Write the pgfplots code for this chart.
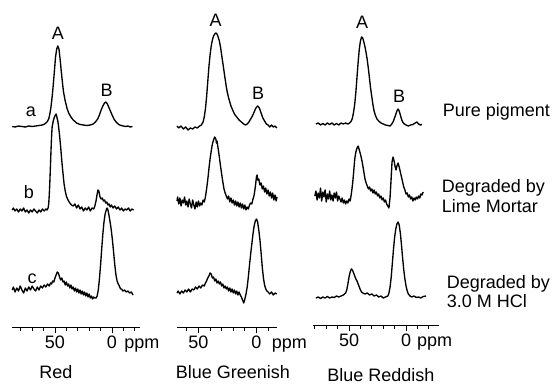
\documentclass[border=0pt]{standalone}
\usepackage{fontspec}
\setmainfont{Liberation Sans}
\usepackage{pgfplots}
\pgfplotsset{compat=1.18}
\newcommand{\fs}{\fontsize{18bp}{20bp}\selectfont}
\begin{document}
\begin{tikzpicture}[font=\fs]
\pgfplotsset{
  tr/.style={black, line width=1.35pt, line join=round, no markers},
  spec/.style={
    scale only axis, x dir=reverse,
    axis x line*=bottom, axis y line=none,
    ymax=387, anchor=south west, clip=false,
    xtick={0,50}, minor xtick={-20,-10,10,20,30,40,60,70,80},
    tick align=outside, major tick length=6bp, minor tick length=3.5bp,
    tick style={black, line width=0.8pt},
    axis line style={black, line width=0.8pt, -},
    xticklabel style={font=\fs, anchor=base, yshift=-15bp, inner sep=0pt},
  }
}
% ---------------- Red ----------------
\begin{axis}[spec, at={(12bp,60bp)}, width=128bp, height=327bp, ymin=60,
  xmin=-24.6, xmax=87.7, xticklabels={0\rlap{\hspace{7.4bp}ppm},50}]
\addplot[tr] coordinates {(87.5,260.5)(85,260)(82,261)(79,260.5)(76,260)(73,261)(70,260.5)(67,261)(64,261.5)(61,262)(59,263)(57,265)(55.5,268)(54.5,273)(53.5,280)(52.5,290)(51.5,302)(50.5,316)(49.5,330)(48.5,338)(47.5,341)(46.5,338)(45.5,328)(44.5,316)(43.5,305)(42.5,295)(41,286)(39.5,279)(38,274)(36,270)(34,267)(31,264)(28,262.5)(25,262)(22,261.5)(19,262)(16.5,263)(14.5,265)(12.5,268)(11,272)(9.5,277)(8,281)(6.5,284)(5.3,285)(4,283)(2.5,279)(1,275)(-0.5,271)(-2,267.5)(-4,264.5)(-6,262.5)(-8,261.5)(-10,261)(-12,260.5)(-14,261)(-16,260)(-18,260.5)};
\addplot[tr] coordinates {(87.5,177)(86.5,179)(85,176)(83.5,178)(82,175)(80.5,178)(79,176)(77.5,179)(76,175)(74.5,177)(73,174)(71.5,177)(70,175)(68.5,178)(67,176)(65.5,174)(64,177)(62.5,175)(61,178)(59.5,176)(58,178)(57,177)(56,179)(55.5,183)(55,192)(54.5,205)(54,220)(53.5,236)(53,250)(52.5,260)(51.5,266)(50.5,270)(49.5,272)(49,273)(48.5,271)(48,268)(47.5,266)(47,262)(46,252)(45,240)(44,226)(43,214)(42,203)(41,196)(40,191)(39,188)(38,186)(37,184)(35.5,182)(34,181)(32.5,183)(31,179)(29.5,182)(28,178)(26.5,180)(25,176)(23.5,179)(22,177)(20.5,180)(19,176)(17.5,179)(16,178)(15,181)(14,186)(13,193)(12.3,197)(11.5,196)(10.5,190)(9.5,188)(8.5,189)(7.5,186)(6.5,187)(5.5,184)(4.5,185)(3.5,182)(2.5,183)(1.5,180)(0.5,182)(-1,179)(-2.5,181)(-4,178)(-5.5,180)(-7,177)(-8.5,179)(-10,176)(-11.5,178)(-13,177)(-14.5,179)(-16,176)(-17.5,178)(-19,177)};
\addplot[tr] coordinates {(87.5,97)(86.5,100)(85,95)(83.5,99)(82,96)(80.5,101)(79,97)(77.5,94)(76,99)(74.5,96)(73,100)(71.5,97)(70,101)(68.5,98)(67,96)(65.5,100)(64,97)(62.5,101)(61,99)(59.5,102)(58,100)(56.5,103)(55,101)(54,104)(53,103)(52,106)(51,105)(50,109)(49,112)(48,115)(47,114)(46,110)(45,107)(44,109)(43,105)(42,106)(41,102)(40,105)(39,101)(38,103)(37,99)(36,102)(35,98)(34,100)(33,96)(32,99)(31,95)(30,98)(29,94)(28,97)(27,93)(26,96)(25,92)(24,95)(23,91)(22,94)(21,90)(20,93)(19,89)(18,91)(17,88)(16,90)(15,89)(14,89)(13,91)(12,97)(11,108)(10,122)(9,138)(8,153)(7,165)(6,173)(5,177)(4.3,179)(3.5,177)(2.5,171)(1.5,164)(0.5,156)(-0.5,146)(-1.5,134)(-2.5,122)(-3.5,112)(-4.5,106)(-5.5,103)(-6.5,101)(-7.5,98)(-8.5,98)(-9.5,96)(-11,97)(-12.5,95)(-14,96)(-15.5,94)(-17,95)(-18.5,92)};
\end{axis}
% ---------------- Blue Greenish ----------------
\begin{axis}[spec, at={(177bp,60bp)}, width=100bp, height=327bp, ymin=60,
  xmin=-17.7, xmax=68.5, xticklabels={0\rlap{\hspace{10.3bp}ppm},50}]
\addplot[tr] coordinates {(68.5,261)(67,259)(65,261)(63,258)(61,260)(59,257)(57,259)(55,258)(53,260)(51,259)(49,261)(47.5,262)(46,265)(45,270)(44,278)(43,290)(42,305)(41,320)(40,332)(39,341)(38,347)(37,351)(36,353)(35,354)(34,353)(33,350)(32,346)(31,340)(30,332)(29,324)(28,316)(27,308)(26,300)(25,294)(24,289)(23,285)(22,281)(20.5,277)(19,273)(17,270)(15,267)(13,265)(11,263)(9.5,262)(8,263)(6.5,265)(5,268)(3.5,271)(2,275)(0.5,279)(-1,281)(-2.5,279)(-4,274)(-5.5,269)(-7,266)(-8.5,263)(-10,262)(-11.5,260)(-13,262)(-14.5,260)(-16,261)(-17.5,259)};
\addplot[tr] coordinates {(68.5,186)(68,190)(67,183)(66,189)(65,181)(64,187)(63,184)(62,190)(61,182)(60,186)(59,180)(58,188)(57,183)(56,179)(55,187)(54,182)(53,178)(52,185)(51,180)(50,186)(49,181)(48,184)(47,182)(46,187)(45,185)(44,190)(43,198)(42,207)(41,218)(40,228)(39,236)(38,243)(37,247)(36,250)(35,248)(34.5,244)(34,246)(33,238)(32,230)(31,221)(30,213)(29,205)(28,198)(27,194)(26,191)(25,188)(24,191)(23,185)(22,189)(21,184)(20,187)(19,182)(18,186)(17,181)(16,185)(15,180)(14,184)(13,179)(12,183)(11,178)(10,182)(9,177)(8,180)(7,178)(6,182)(5,184)(4,183)(3,188)(2,192)(1,200)(0,210)(-0.5,212)(-1,207)(-2,208)(-3,202)(-4,204)(-5,198)(-6,201)(-7,195)(-8,199)(-9,193)(-10,197)(-11,191)(-12,195)(-13,189)(-14,194)(-15,187)(-16,192)(-17,186)(-17.7,190)};
\addplot[tr] coordinates {(68.5,94)(67.5,96)(66,93)(64.5,96)(63,94)(61.5,97)(60,95)(58.5,98)(57,95)(55.5,98)(54,97)(52.5,100)(51,98)(49.5,101)(48,99)(46.5,102)(45,101)(44,104)(43,106)(42,109)(41,111)(40,114)(39,113)(38,109)(37,110)(36,106)(35,108)(34,104)(33,106)(32,103)(31,105)(30,101)(29,103)(28,99)(27,101)(26,98)(25,100)(24,96)(23,99)(22,95)(21,98)(20,94)(19,97)(18,93)(17,96)(16,92)(15,95)(14,92)(13,90)(12,87)(11,84)(10,88)(9,93)(8,100)(7,110)(6,122)(5,133)(4,143)(3,153)(2,161)(1,166)(0,168)(-1,165)(-2,157)(-3,147)(-4,134)(-5,120)(-6,109)(-7,102)(-8,98)(-9,96)(-10,95)(-11.5,93)(-13,95)(-14.5,92)(-16,94)(-17.5,93)};
\end{axis}
% ---------------- Blue Reddish ----------------
\begin{axis}[spec, at={(313bp,62bp)}, width=126bp, height=325bp, ymin=62,
  xmin=-28.9, xmax=81.6, xticklabels={0\rlap{\hspace{6.1bp}ppm},50}]
\addplot[tr] coordinates {(79,263)(77,264)(75,262)(73,263.5)(71,262)(69,264)(67,262.5)(65,264)(63,262)(61,263.5)(59,262)(57,264)(55,263)(53,264)(51,263)(49.5,264)(48,266)(47,269)(46,275)(45,283)(44,295)(43,310)(42,325)(41,338)(40,346)(39,350)(38,349)(37,345)(36,340)(35,334)(34,327)(33,318)(32,308)(31,298)(30,290)(29,282)(28,276)(27,272)(25.5,268)(24,266)(22,264)(20,263)(18,262)(16,261.5)(14,261)(12.5,263)(11,266)(9.5,271)(8,276)(7,278)(6,276)(5,272)(4,268)(3,265)(1.5,263)(0,262)(-2,261)(-4,262)(-6,262.5)(-8,264)(-9.5,265)(-11,263)(-12.5,262)(-14,262.5)};
\addplot[tr] coordinates {(80,191)(79,196)(78,187)(77,194)(76,189)(75,199)(74,186)(73,195)(72,190)(71,197)(70,185)(69,193)(68,188)(67,196)(66,187)(65,192)(64,186)(63,194)(62,189)(61,195)(60,186)(59,191)(58,188)(57,185)(56,189)(55,184)(54,187)(53,183)(52,186)(51,184)(50,188)(49,186)(48,193)(47,202)(46,214)(45,228)(44,235)(43,239)(42,241)(41,237)(40,233)(39,228)(38,222)(37,215)(36,208)(35,204)(34,201)(33,198)(32,200)(31,196)(30,198)(29,194)(28,197)(27,193)(26,195)(25,191)(24,193)(23,189)(22,191)(21,187)(20,189)(19,185)(18,187)(17,183)(16,181)(15,179)(14,190)(13,210)(12.3,225)(11.4,230)(10.5,226)(9.5,220)(8.8,217)(8,221)(7,224)(6,220)(5,215)(4,210)(3,205)(2,200)(1,197)(0,193)(-1,194)(-2,190)(-3,192)(-4,188)(-5,190)(-6,186)(-7,189)(-8,187)(-9,190)(-10,188)(-11,191)(-12,189)(-13,193)(-14,192)(-15,195)};
\addplot[tr] coordinates {(79,89)(77,90)(75,88.5)(73,90)(71,89)(69,90.5)(67,89)(65,90)(63,89.5)(61,91)(59,90)(57,91)(55,92)(53,94)(52,97)(51,103)(50,110)(49,115)(48,118)(47,117)(46,114)(45,111)(44,108)(43,106)(42,103)(41,100)(40,97)(39,95)(38,94)(36,93)(34,94)(32,92)(30,93)(28,91)(26,92)(24,90)(22,91)(20,89)(18,90)(16,91)(15,94)(14,100)(13,110)(12,124)(11,138)(10,150)(9,158)(8,163)(7,165)(6,162)(5,154)(4,142)(3,129)(2,117)(1,108)(0,101)(-1,96)(-2,93)(-3.5,91)(-5,90)(-7,91)(-9,89.5)(-11,90)(-13,89)(-15,90.5)(-17.5,91)};
\end{axis}
% ---------------- labels ----------------
\node[anchor=base] at (58bp,347bp) {A};
\node[anchor=base] at (106.7bp,290bp) {B};
\node[anchor=base] at (215.7bp,360bp) {A};
\node[anchor=base] at (258bp,287bp) {B};
\node[anchor=base] at (362bp,358bp) {A};
\node[anchor=base] at (399bp,284bp) {B};
\node[anchor=base] at (31bp,270bp) {a};
\node[anchor=base] at (29bp,188bp) {b};
\node[anchor=base] at (32bp,103bp) {c};
\node[anchor=base west, inner sep=0pt] at (442.7bp,270bp) {Pure pigment};
\node[anchor=base west, inner sep=0pt] at (441.7bp,194bp) {Degraded by};
\node[anchor=base west, inner sep=0pt] at (441.7bp,174bp) {Lime Mortar};
\node[anchor=base west, inner sep=0pt] at (446.7bp,98bp) {Degraded by};
\node[anchor=base west, inner sep=0pt] at (446.7bp,79bp) {3.0 M HCl};
\node[anchor=base, inner sep=0pt] at (56bp,8.5bp) {Red};
\node[anchor=base, inner sep=0pt] at (233bp,8.5bp) {Blue Greenish};
\node[anchor=base, inner sep=0pt] at (381bp,5.5bp) {Blue Reddish};
\pgfresetboundingbox
\useasboundingbox (0,0) rectangle (557bp,387bp);
\end{tikzpicture}
\end{document}
